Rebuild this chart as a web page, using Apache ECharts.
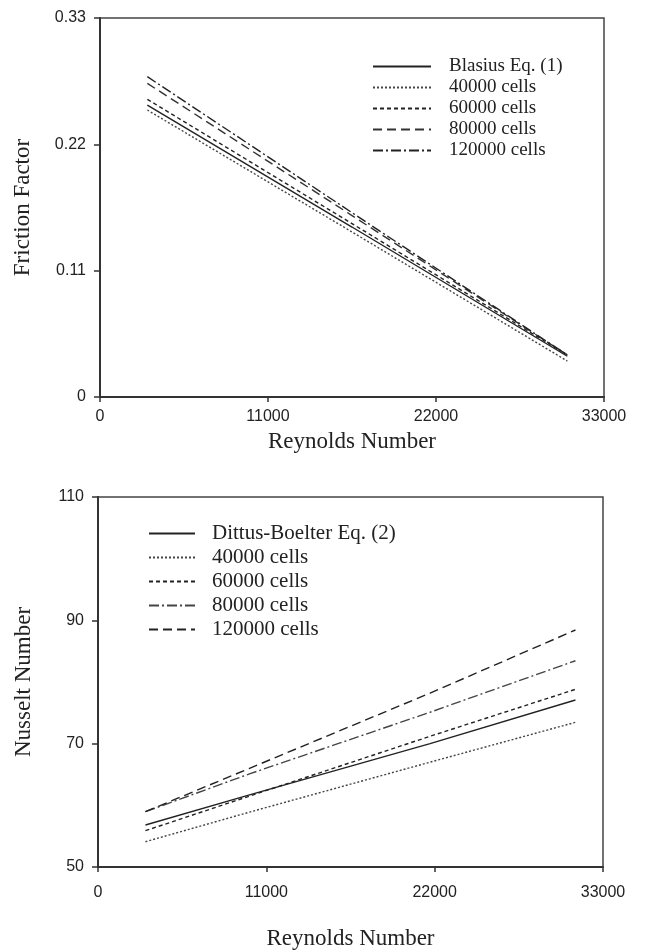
<!DOCTYPE html>
<html>
<head>
<meta charset="utf-8">
<script src="https://cdn.jsdelivr.net/npm/echarts@6/dist/echarts.min.js"></script>
<style>
  html, body { margin: 0; padding: 0; background: #fff; }
  #chartTop, #chartBottom { width: 653px; height: 475px; }
</style>
</head>
<body>
<div id="chartTop"></div>
<div id="chartBottom"></div>
<script>
// Top chart: friction factor vs Reynolds number
const reTop = [3100, 16500, 30600];
const blasius = [0.2542, 0.1480, 0.0355];
const f40k = [0.2499, 0.1437, 0.0313];
const f60k = [0.2592, 0.1510, 0.0366];
const f80k = [0.2731, 0.1580, 0.0366];
const f120k = [0.2789, 0.1605, 0.0366];

// Bottom chart: Nusselt number vs Reynolds number
const reBottom = [3100, 9900, 21700, 31200];
const dittus = [56.81, 61.7, 70.0, 77.08];
const nu40k = [54.10, 58.9, 67.0, 73.46];
const nu60k = [55.89, 61.5, 71.2, 78.81];
const nu80k = [58.97, 65.1, 75.1, 83.45];
const nu120k = [58.97, 66.0, 78.2, 88.43];

const xTicks = [0, 11000, 22000, 33000];
const fTicks = [0, 0.11, 0.22, 0.33];
const nuTicks = [50, 70, 90, 110];

const serif = "'Liberation Serif', 'DejaVu Serif', serif";
const sans = "'Liberation Sans', Arial, sans-serif";
const ink = '#222';

const DOT = [2, 2];
const SHORT = [4, 3];
const LONG = [9, 5];
const DASHDOT = [10, 3, 2, 3];

function pairs(xs, ys) {
    return xs.map((x, i) => [x, ys[i]]);
}

function lineSeries(name, xs, ys, dash, color) {
    return {
        name: name,
        type: 'line',
        symbol: 'none',
        silent: true,
        data: pairs(xs, ys),
        lineStyle: { color: color || ink, width: 1.4, type: dash || 'solid' },
        itemStyle: { color: color || ink }
    };
}

function xAxisCfg(labelMargin, nameGap) {
    return {
        type: 'value',
        min: xTicks[0],
        max: xTicks[xTicks.length - 1],
        interval: xTicks[1] - xTicks[0],
        name: 'Reynolds Number',
        nameLocation: 'middle',
        nameGap: nameGap,
        nameTextStyle: { fontFamily: serif, fontSize: 23, color: ink },
        axisLine: { show: true, lineStyle: { color: '#333', width: 2 } },
        axisTick: { show: true, inside: false, length: 5, lineStyle: { color: '#333', width: 1.5 } },
        axisLabel: { margin: labelMargin, fontFamily: sans, fontSize: 16, color: ink, formatter: v => String(v) },
        splitLine: { show: false }
    };
}

function yAxisCfg(ticks, name, nameGap, fmt) {
    return {
        type: 'value',
        min: ticks[0],
        max: ticks[ticks.length - 1],
        interval: ticks[1] - ticks[0],
        name: name,
        nameLocation: 'middle',
        nameGap: nameGap,
        nameTextStyle: { fontFamily: serif, fontSize: 23, color: ink },
        axisLine: { show: true, lineStyle: { color: '#333', width: 2 } },
        axisTick: { show: true, inside: false, length: 6, lineStyle: { color: '#333', width: 1.5 } },
        axisLabel: { margin: 14, fontFamily: sans, fontSize: 16, color: ink, formatter: fmt },
        splitLine: { show: false }
    };
}

const topChart = echarts.init(document.getElementById('chartTop'));
topChart.setOption({
    animation: false,
    backgroundColor: '#fff',
    grid: {
        left: 100, right: 49, top: 18, bottom: 78,
        outerBoundsMode: 'none',
        show: true, borderColor: '#444', borderWidth: 1.5, backgroundColor: '#fff'
    },
    legend: {
        orient: 'vertical',
        left: 372,
        top: 57,
        padding: 0,
        itemWidth: 58,
        itemHeight: 16,
        itemGap: 2,
        selectedMode: false,
        itemStyle: { opacity: 0 },
        textStyle: { fontFamily: serif, fontSize: 19, lineHeight: 16, color: ink, padding: [0, 0, 0, 13] },
        data: ['Blasius Eq. (1)', '40000 cells', '60000 cells', '80000 cells', '120000 cells']
    },
    xAxis: xAxisCfg(12, 33),
    yAxis: yAxisCfg(fTicks, 'Friction Factor', 66, v => v === 0 ? '0' : v.toFixed(2)),
    series: [
        lineSeries('Blasius Eq. (1)', reTop, blasius, 'solid'),
        lineSeries('40000 cells', reTop, f40k, DOT, '#444'),
        lineSeries('60000 cells', reTop, f60k, SHORT),
        lineSeries('80000 cells', reTop, f80k, LONG, '#333'),
        lineSeries('120000 cells', reTop, f120k, DASHDOT)
    ]
});

const bottomChart = echarts.init(document.getElementById('chartBottom'));
bottomChart.setOption({
    animation: false,
    backgroundColor: '#fff',
    grid: {
        left: 98, right: 50, top: 22, bottom: 83,
        outerBoundsMode: 'none',
        show: true, borderColor: '#444', borderWidth: 1.5, backgroundColor: '#fff'
    },
    legend: {
        orient: 'vertical',
        left: 148,
        top: 48,
        padding: 0,
        itemWidth: 46,
        itemHeight: 18,
        itemGap: 3,
        selectedMode: false,
        itemStyle: { opacity: 0 },
        textStyle: { fontFamily: serif, fontSize: 21, lineHeight: 18, color: ink, padding: [0, 0, 0, 12] },
        data: ['Dittus-Boelter Eq. (2)', '40000 cells', '60000 cells', '80000 cells', '120000 cells']
    },
    xAxis: xAxisCfg(18, 60),
    yAxis: yAxisCfg(nuTicks, 'Nusselt Number', 63, v => String(v)),
    series: [
        lineSeries('Dittus-Boelter Eq. (2)', reBottom, dittus, 'solid'),
        lineSeries('40000 cells', reBottom, nu40k, DOT, '#444'),
        lineSeries('60000 cells', reBottom, nu60k, SHORT),
        lineSeries('80000 cells', reBottom, nu80k, DASHDOT, '#444'),
        lineSeries('120000 cells', reBottom, nu120k, LONG)
    ]
});

window.onresize = function() {
    topChart.resize();
    bottomChart.resize();
};
</script>
</body>
</html>
